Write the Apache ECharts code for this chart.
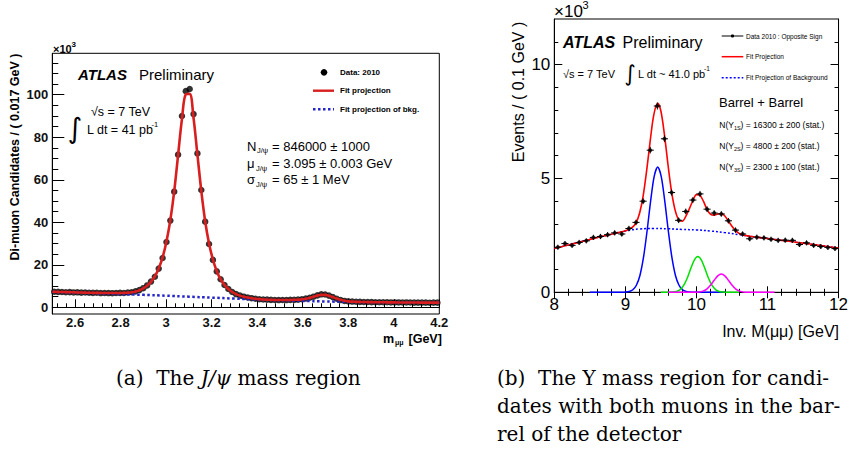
<!DOCTYPE html>
<html><head><meta charset="utf-8">
<script src="https://cdn.jsdelivr.net/npm/echarts@6.0.0/dist/echarts.min.js"></script>
<style>html,body{margin:0;padding:0;background:#fff}#c{width:851px;height:452px}</style>
</head><body><div id="c"></div>
<script>
// ---------- Panel (a): J/psi region (values in units of 10^3) ----------
const jpsiMass = [2.5085,2.5255,2.5425,2.5595,2.5765,2.5935,2.6105,2.6275,2.6445,2.6615,
2.6785,2.6955,2.7125,2.7295,2.7465,2.7635,2.7805,2.7975,2.8145,2.8315,
2.8485,2.8655,2.8825,2.8995,2.9165,2.9335,2.9505,2.9675,2.9845,3.0015,
3.0185,3.0355,3.0525,3.0695,3.0865,3.1035,3.1205,3.1375,3.1545,3.1715,
3.1885,3.2055,3.2225,3.2395,3.2565,3.2735,3.2905,3.3075,3.3245,3.3415,
3.3585,3.3755,3.3925,3.4095,3.4265,3.4435,3.4605,3.4775,3.4945,3.5115,
3.5285,3.5455,3.5625,3.5795,3.5965,3.6135,3.6305,3.6475,3.6645,3.6815,
3.6985,3.7155,3.7325,3.7495,3.7665,3.7835,3.8005,3.8175,3.8345,3.8515,
3.8685,3.8855,3.9025,3.9195,3.9365,3.9535,3.9705,3.9875,4.0045,4.0215,
4.0385,4.0555,4.0725,4.0895,4.1065,4.1235,4.1405,4.1575,4.1745,4.1915];
const jpsiCounts = [7.3,7.25,7.2,7.1,7.15,7.0,7.05,6.9,6.95,6.85,
6.8,6.85,6.7,6.75,6.7,6.65,6.75,6.8,6.75,6.95,
7.1,7.5,8.1,9.0,10.3,12.1,14.4,18.2,23.2,30.7,
40.8,54.4,71.8,90.0,101.7,102.7,90.9,72.4,55.2,40.3,
29.8,22.3,16.9,13.2,10.5,8.6,7.2,6.2,5.5,5.0,
4.6,4.3,4.0,3.8,3.7,3.6,3.5,3.45,3.4,3.45,
3.4,3.5,3.5,3.6,3.8,4.1,4.5,5.0,5.6,6.1,
6.0,5.5,4.8,4.0,3.4,3.0,2.8,2.7,2.6,2.55,
2.5,2.5,2.45,2.4,2.4,2.4,2.35,2.3,2.3,2.3,
2.25,2.3,2.25,2.2,2.2,2.2,2.2,2.15,2.2,2.2];
const jpsiFitMass = [2.5].concat(jpsiMass, [4.2]);
const jpsiFit = [7.35,
7.3,7.25,7.2,7.15,7.1,7.05,7.0,6.95,6.9,6.85,
6.8,6.78,6.75,6.72,6.7,6.7,6.7,6.72,6.78,6.88,
7.05,7.4,8.0,8.9,10.2,12.0,14.6,18.3,23.5,31.0,
41.0,54.5,71.5,88.5,100.2,100.4,89.0,71.8,54.8,40.5,
30.0,22.5,17.0,13.2,10.5,8.6,7.2,6.2,5.5,5.0,
4.6,4.3,4.05,3.85,3.7,3.6,3.52,3.47,3.44,3.43,
3.44,3.47,3.52,3.6,3.75,4.0,4.45,5.0,5.5,5.85,
5.85,5.45,4.8,4.1,3.5,3.05,2.8,2.65,2.57,2.52,
2.48,2.45,2.42,2.4,2.38,2.36,2.34,2.32,2.3,2.28,
2.27,2.26,2.25,2.24,2.23,2.22,2.21,2.2,2.2,2.2,
2.2];
const jpsiBkgMass = [2.5,2.6,2.7,2.8,2.9,3.0,3.1,3.2,3.3,3.4,3.5,3.6,3.7,3.8,3.9,4.0,4.1,4.2];
const jpsiBkg = [7.25,6.9,6.55,6.2,5.85,5.45,5.0,4.55,4.1,3.65,3.3,3.0,2.75,2.55,2.4,2.3,2.22,2.18];
const jpsiMajorTicksX = [2.6,2.8,3.0,3.2,3.4,3.6,3.8,4.0,4.2];
const jpsiMinorTicksX = [2.52,2.56,2.64,2.68,2.72,2.76,2.84,2.88,2.92,2.96,3.04,3.08,3.12,3.16,3.24,3.28,3.32,3.36,3.44,3.48,3.52,3.56,3.64,3.68,3.72,3.76,3.84,3.88,3.92,3.96,4.04,4.08,4.12,4.16];
const jpsiMajorTicksY = [0,20,40,60,80,100];
const jpsiMinorTicksY = [5,10,15,25,30,35,45,50,55,65,70,75,85,90,95,105,110,115];

// ---------- Panel (b): Upsilon region (values in units of 10^3) ----------
const upsMass = [8.05,8.15,8.25,8.35,8.45,8.55,8.65,8.75,8.85,8.95,
9.05,9.15,9.25,9.35,9.45,9.55,9.65,9.75,9.85,9.95,
10.05,10.15,10.25,10.35,10.45,10.55,10.65,10.75,10.85,10.95,
11.05,11.15,11.25,11.35,11.45,11.55,11.65,11.75,11.85,11.95];
const upsCounts = [1.98,2.14,2.06,2.19,2.26,2.41,2.45,2.53,2.61,2.56,
2.80,3.07,4.00,6.24,8.18,6.74,4.38,3.16,3.55,4.05,
4.32,3.65,3.48,3.44,3.14,2.73,2.56,2.35,2.42,2.39,
2.33,2.28,2.29,2.28,2.10,2.17,2.06,2.01,1.97,1.92];
const upsErr = [0.045,0.046,0.045,0.047,0.048,0.049,0.049,0.05,0.051,0.051,
0.053,0.055,0.063,0.079,0.09,0.082,0.066,0.056,0.06,0.064,
0.066,0.061,0.059,0.059,0.056,0.052,0.051,0.048,0.049,0.049,
0.048,0.048,0.048,0.048,0.046,0.047,0.045,0.045,0.044,0.044];
const upsBinHalfWidth = 0.05;
const upsFitMass = [8.0,8.1,8.2,8.3,8.4,8.5,8.6,8.7,8.8,8.9,9.0,9.05,9.1,9.15,9.2,9.25,9.3,9.35,9.4,9.455,9.5,9.55,9.6,9.65,9.7,9.75,9.8,9.85,9.9,9.95,10.0,10.05,10.1,10.15,10.2,10.25,10.3,10.35,10.4,10.45,10.5,10.55,10.6,10.65,10.7,10.8,10.9,11.0,11.2,11.4,11.6,11.8,12.0];
const upsFit = [1.92,2.0,2.08,2.16,2.24,2.32,2.4,2.47,2.55,2.62,2.70,2.77,2.86,3.05,3.47,4.22,5.35,6.66,7.79,8.3,7.96,6.92,5.6,4.42,3.61,3.19,3.12,3.33,3.66,4.03,4.29,4.26,3.99,3.63,3.42,3.38,3.44,3.46,3.35,3.13,2.9,2.71,2.59,2.52,2.49,2.44,2.40,2.36,2.28,2.2,2.12,2.03,1.94];
const upsBkgMass = [8.0,8.2,8.4,8.6,8.8,9.0,9.2,9.4,9.6,9.8,10.0,10.2,10.4,10.6,10.8,11.0,11.2,11.4,11.6,11.8,12.0];
const upsBkg = [1.92,2.08,2.24,2.4,2.55,2.69,2.78,2.8,2.79,2.76,2.74,2.69,2.62,2.53,2.44,2.36,2.28,2.2,2.12,2.03,1.94];
const ups1SMass = [8.5,8.95,9.005,9.055,9.105,9.155,9.205,9.255,9.305,9.355,9.405,9.455,9.505,9.555,9.605,9.655,9.705,9.755,9.805,9.855,9.905,9.955,10.4];
const ups1S = [0,0,0.008,0.033,0.11,0.31,0.74,1.53,2.68,3.99,5.08,5.5,5.08,3.99,2.68,1.53,0.74,0.31,0.11,0.033,0.008,0,0];
const ups2SMass = [9.5,9.57,9.62,9.67,9.72,9.77,9.82,9.87,9.92,9.97,10.02,10.07,10.12,10.17,10.22,10.27,10.32,10.37,10.42,10.47,10.6];
const ups2S = [0,0,0.002,0.010,0.038,0.119,0.30,0.62,1.04,1.416,1.57,1.416,1.04,0.62,0.30,0.119,0.038,0.010,0.002,0,0];
const ups3SMass = [9.6,9.9,9.95,10.0,10.05,10.1,10.15,10.2,10.25,10.3,10.35,10.4,10.45,10.5,10.55,10.6,10.65,10.7,10.75,10.8,11.1];
const ups3S = [0,0,0.001,0.005,0.019,0.061,0.153,0.316,0.529,0.722,0.80,0.722,0.529,0.316,0.153,0.061,0.019,0.005,0.001,0,0];
const upsMajorTicksY = [0,5,10];
const upsMinorTicksY = [1,2,3,4,6,7,8,9,11];

// ---------- build ----------
const zip = (xs, ys) => xs.map((x, i) => [x, ys[i]]);
const SANS = '"Liberation Sans", Arial, Helvetica, sans-serif';
const SERIF = '"DejaVu Serif", serif';
const chart = echarts.init(document.getElementById('c'), null, {renderer: 'svg'});

function T(x, y, text, size, o) {
  o = o || {};
  const st = {text: text, fontSize: size, fontFamily: o.family || SANS, fontWeight: o.weight || 'normal',
    fontStyle: o.style || 'normal', fill: o.color || '#000',
    align: o.align || 'left', verticalAlign: o.va || 'middle',
    textAlign: o.align || 'left', textVerticalAlign: o.va || 'middle'};
  if (o.rich) st.rich = o.rich;
  return {type: 'text', x: x, y: y, rotation: o.rot || 0, z: 100, style: st};
}
function L(x1, y1, x2, y2, color, w, dash) {
  return {type: 'line', z: 100, shape: {x1: x1, y1: y1, x2: x2, y2: y2},
    style: {stroke: color, lineWidth: w, lineDash: dash || null}};
}

const blk = {color: '#000', width: 1};
function tickAxis(extra) {
  return Object.assign({type: 'value', splitLine: {show: false}, axisLine: {show: false, lineStyle: blk},
    axisLabel: {show: false}}, extra);
}

const option = {
  backgroundColor: '#fff',
  animation: false,
  grid: [
    {left: 52.3, top: 53.3, width: 387, height: 260.7, show: true, borderColor: '#000', borderWidth: 1, backgroundColor: 'transparent'},
    {left: 554.3, top: 19, width: 284.7, height: 273.3, show: true, borderColor: '#000', borderWidth: 1, backgroundColor: 'transparent'}
  ],
  xAxis: [
    tickAxis({gridIndex: 0, min: 2.5, max: 4.2, position: 'bottom',
      axisLine: {show: true, lineStyle: blk},
      axisTick: {show: true, inside: true, length: 8, customValues: jpsiMajorTicksX, lineStyle: blk},
      axisLabel: {show: true, customValues: jpsiMajorTicksX, fontSize: 13, fontWeight: 'bold', fontFamily: SANS, color: '#111', margin: 2}}),
    tickAxis({gridIndex: 0, min: 2.5, max: 4.2, position: 'bottom',
      axisTick: {show: true, inside: true, length: 4, customValues: jpsiMinorTicksX, lineStyle: blk}}),
    tickAxis({gridIndex: 1, min: 8, max: 12, interval: 1, position: 'bottom',
      axisLine: {show: true, lineStyle: blk},
      axisTick: {show: true, inside: true, length: 6, lineStyle: blk},
      minorTick: {show: true, splitNumber: 5, length: 3.5, lineStyle: blk},
      axisLabel: {show: true, fontSize: 17, fontFamily: SANS, color: '#000', margin: 4}}),
    tickAxis({gridIndex: 1, min: 8, max: 12, interval: 1, position: 'top',
      axisLine: {show: true, lineStyle: blk},
      axisTick: {show: true, inside: true, length: 6, lineStyle: blk},
      minorTick: {show: true, splitNumber: 5, length: 3.5, lineStyle: blk}})
  ],
  yAxis: [
    tickAxis({gridIndex: 0, min: -3.15, max: 119.5, position: 'left',
      axisLine: {show: true, lineStyle: blk},
      axisTick: {show: true, inside: true, length: 12, customValues: jpsiMajorTicksY, lineStyle: blk},
      axisLabel: {show: true, customValues: jpsiMajorTicksY, fontSize: 13, fontWeight: 'bold', fontFamily: SANS, color: '#111', margin: 4}}),
    tickAxis({gridIndex: 0, min: -3.15, max: 119.5, position: 'left',
      axisTick: {show: true, inside: true, length: 6, customValues: jpsiMinorTicksY, lineStyle: blk}}),
    tickAxis({gridIndex: 1, min: 0, max: 12, position: 'left',
      axisLine: {show: true, lineStyle: blk},
      axisTick: {show: true, inside: true, length: 8, customValues: upsMajorTicksY, lineStyle: blk},
      axisLabel: {show: true, customValues: upsMajorTicksY, fontSize: 17, fontFamily: SANS, color: '#000', margin: 4}}),
    tickAxis({gridIndex: 1, min: 0, max: 12, position: 'left',
      axisTick: {show: true, inside: true, length: 4, customValues: upsMinorTicksY, lineStyle: blk}}),
    tickAxis({gridIndex: 1, min: 0, max: 12, position: 'right',
      axisLine: {show: true, lineStyle: blk},
      axisTick: {show: true, inside: true, length: 8, customValues: upsMajorTicksY, lineStyle: blk}}),
    tickAxis({gridIndex: 1, min: 0, max: 12, position: 'right',
      axisTick: {show: true, inside: true, length: 4, customValues: upsMinorTicksY, lineStyle: blk}})
  ],
  series: [
    // panel (a)
    {type: 'scatter', xAxisIndex: 0, yAxisIndex: 0, data: zip(jpsiMass, jpsiCounts), symbol: 'circle', symbolSize: 6.5,
      itemStyle: {color: '#000'}, z: 2},
    {type: 'line', xAxisIndex: 0, yAxisIndex: 0, data: zip(jpsiBkgMass, jpsiBkg), smooth: true, symbol: 'none',
      lineStyle: {color: '#2424cc', width: 2.5, type: [2.5, 2.5]}, z: 3},
    {type: 'line', xAxisIndex: 0, yAxisIndex: 0, data: zip(jpsiFitMass, jpsiFit), smooth: 0.35, symbol: 'none',
      lineStyle: {color: '#d81e1e', width: 2.6}, z: 4},
    // panel (b)
    {type: 'line', xAxisIndex: 2, yAxisIndex: 2, data: zip(ups1SMass, ups1S), smooth: 0.3, symbol: 'none',
      lineStyle: {color: '#0000ff', width: 1.5}, z: 2},
    {type: 'line', xAxisIndex: 2, yAxisIndex: 2, data: zip(ups2SMass, ups2S), smooth: 0.3, symbol: 'none',
      lineStyle: {color: '#00e000', width: 1.5}, z: 2},
    {type: 'line', xAxisIndex: 2, yAxisIndex: 2, data: zip(ups3SMass, ups3S), smooth: 0.3, symbol: 'none',
      lineStyle: {color: '#ff00ff', width: 1.5}, z: 2},
    {type: 'line', xAxisIndex: 2, yAxisIndex: 2, data: zip(upsBkgMass, upsBkg), smooth: true, symbol: 'none',
      lineStyle: {color: '#0000ff', width: 1.5, type: [2, 2]}, z: 3},
    {type: 'line', xAxisIndex: 2, yAxisIndex: 2, data: zip(upsFitMass, upsFit), smooth: 0.3, symbol: 'none',
      lineStyle: {color: '#ff0000', width: 1.6}, z: 4},
    {type: 'custom', xAxisIndex: 2, yAxisIndex: 2, z: 5,
      data: upsMass.map((x, i) => [x, upsCounts[i], upsErr[i]]),
      renderItem: function (params, api) {
        const x = api.value(0), y = api.value(1), e = api.value(2);
        const l = api.coord([x - upsBinHalfWidth, y]), r = api.coord([x + upsBinHalfWidth, y]);
        const t = api.coord([x, y + e]), b = api.coord([x, y - e]);
        return {type: 'group', children: [
          {type: 'line', shape: {x1: l[0], y1: l[1], x2: r[0], y2: r[1]}, style: {stroke: '#000', lineWidth: 1}},
          {type: 'line', shape: {x1: t[0], y1: t[1] - 1.5, x2: b[0], y2: b[1] + 1.5}, style: {stroke: '#000', lineWidth: 1}}
        ]};
      }},
    {type: 'scatter', xAxisIndex: 2, yAxisIndex: 2, data: zip(upsMass, upsCounts), symbol: 'circle', symbolSize: 4,
      itemStyle: {color: '#000'}, z: 6}
  ],
  graphic: [
    // ---- panel (a) texts ----
    T(53, 48.5, '×10', 11, {weight: 'bold'}),
    T(71.5, 44, '3', 8, {weight: 'bold'}),
    T(15, 157, 'Di-muon Candidates / ( 0.017 GeV )', 12.5, {weight: 'bold', align: 'center', rot: Math.PI / 2}),
    T(383, 338.5, 'm', 12.5, {weight: 'bold'}),
    T(395, 342, 'μμ', 7, {weight: 'bold'}),
    T(408.5, 338.5, '[GeV]', 12.5, {weight: 'bold'}),
    T(78, 74, 'ATLAS', 15, {weight: 'bold', style: 'italic'}),
    T(139, 74, 'Preliminary', 15),
    T(91, 112, '√s = 7 TeV', 12.5),
    T(75, 128, '∫', 28, {family: '"DejaVu Sans", sans-serif', align: 'center'}),
    T(87, 130, 'L dt = 41 pb', 12.5),
    T(151.5, 124.5, '-1', 7.5),
    {type: 'circle', z: 100, shape: {cx: 324, cy: 72.3, r: 3.3}, style: {fill: '#000'}},
    T(340, 72.3, 'Data: 2010', 8, {weight: 'bold'}),
    L(313, 90.7, 334, 90.7, '#d81e1e', 2.4),
    T(340, 90.7, 'Fit projection', 8, {weight: 'bold'}),
    L(313, 109.3, 334, 109.3, '#2424cc', 2.4, [2.5, 2.5]),
    T(340, 109.3, 'Fit projection of bkg.', 8, {weight: 'bold'}),
    T(247, 146, 'N', 13),
    T(257, 150.5, 'J/ψ', 7.5),
    T(272, 146, '= 846000 ± 1000', 13),
    T(247, 163, 'μ', 13),
    T(256, 168, 'J/ψ', 7.5),
    T(272, 163, '= 3.095 ± 0.003 GeV', 13),
    T(247, 179.5, 'σ', 13),
    T(256, 184, 'J/ψ', 7.5),
    T(272, 179.5, '= 65 ± 1 MeV', 13),
    // ---- panel (b) texts ----
    T(554, 11, '×10', 17),
    T(582.5, 5, '3', 11),
    T(518.5, 92, 'Events / ( 0.1 GeV )', 16, {align: 'center', rot: Math.PI / 2}),
    T(839, 331, 'Inv. M(μμ) [GeV]', 16, {align: 'right'}),
    T(563, 42, 'ATLAS', 16, {weight: 'bold', style: 'italic'}),
    T(622.5, 42, 'Preliminary', 16),
    T(563, 73.5, '√s = 7 TeV', 11),
    T(630, 73, '∫', 22, {family: '"DejaVu Sans", sans-serif', align: 'center'}),
    T(638, 73.5, 'L dt ~ 41.0 pb', 11),
    T(704, 68.5, '-1', 6.5),
    L(721.7, 36, 743.3, 36, '#000', 1),
    {type: 'circle', z: 100, shape: {cx: 732.5, cy: 36, r: 1.6}, style: {fill: '#000'}},
    T(746, 36.5, 'Data 2010 : Opposite Sign', 6.5),
    L(721.7, 56.7, 743.3, 56.7, '#ff0000', 1.5),
    T(746, 56.5, 'Fit Projection', 6.5),
    L(721.7, 77.7, 743.3, 77.7, '#0000ff', 1.5, [2, 2]),
    T(746, 77.7, 'Fit Projection of Background', 6.5),
    T(719, 102, 'Barrel + Barrel', 13),
    T(719.3, 125, 'N(Υ', 8.5), T(734, 128, '1S', 5.5), T(740.5, 125, ') = 16300 ± 200 (stat.)', 8.5),
    T(719.3, 146, 'N(Υ', 8.5), T(734, 149, '2S', 5.5), T(740.5, 146, ') = 4800 ± 200 (stat.)', 8.5),
    T(719.3, 166.7, 'N(Υ', 8.5), T(734, 169.7, '3S', 5.5), T(740.5, 166.7, ') = 2300 ± 100 (stat.)', 8.5),
    // ---- captions ----
    T(116, 378, '{n|(a)  The }{i|J/ψ}{n| mass region}', 20, {family: SERIF,
      rich: {n: {fontSize: 20, fontFamily: SERIF, fill: '#000'}, i: {fontSize: 20, fontFamily: SERIF, fontStyle: 'italic', fill: '#000'}}}),
    T(497, 378, '(b)  The Υ mass region for candi-', 20, {family: SERIF}),
    T(497, 406, 'dates with both muons in the bar-', 20, {family: SERIF}),
    T(497, 434, 'rel of the detector', 20, {family: SERIF})
  ]
};
chart.setOption(option);
</script></body></html>
